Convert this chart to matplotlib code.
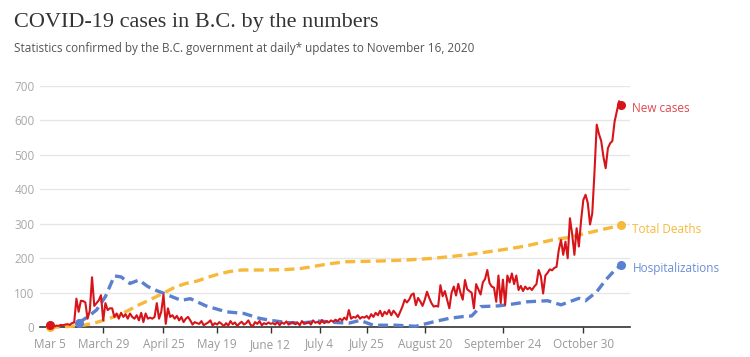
import numpy as np
import pandas as pd
import matplotlib
matplotlib.use("Agg")
import matplotlib.pyplot as plt
import matplotlib.dates as mdates

# daily new cases, March 5 to November 16, 2020
start = "2020-03-05"
end = "2020-11-16"
new_cases = [
    8, 3, 1, 5, 4, 7, 6, 8, 9, 7,
    12, 14, 83, 45, 77, 76, 72, 25, 48, 145,
    62, 70, 78, 93, 20, 70, 50, 55, 55, 30,
    40, 25, 42, 30, 38, 25, 40, 30, 25, 35,
    20, 42, 15, 40, 25, 28, 25, 30, 70, 25,
    45, 95, 10, 55, 30, 35, 25, 33, 20, 30,
    15, 25, 30, 20, 8, 15, 12, 10, 18, 6,
    10, 14, 20, 5, 12, 8, 15, 10, 3, 12,
    5, 18, 9, 14, 4, 11, 16, 8, 12, 20,
    7, 3, 15, 10, 18, 6, 12, 9, 14, 10,
    12, 8, 15, 6, 14, 10, 17, 8, 12, 15,
    9, 14, 6, 18, 10, 12, 15, 8, 20, 13,
    16, 10, 21, 12, 18, 14, 20, 16, 22, 18,
    25, 20, 28, 22, 50, 25, 30, 28, 35, 25,
    30, 28, 33, 25, 38, 30, 42, 35, 48, 32,
    45, 38, 50, 35, 48, 40, 30, 45, 60, 80,
    72, 80, 94, 98, 64, 85, 75, 62, 80, 103,
    85, 70, 60, 62, 60, 122, 90, 105, 80, 55,
    100, 118, 92, 126, 100, 80, 137, 110, 105, 100,
    55, 125, 110, 95, 130, 140, 166, 128, 118, 115,
    74, 150, 70, 138, 65, 150, 130, 156, 125, 150,
    108, 120, 105, 118, 110, 115, 108, 118, 125, 166,
    148, 98, 150, 158, 168, 165, 172, 175, 224, 253,
    210, 248, 200, 316, 270, 210, 287, 234, 310, 369,
    384, 360, 298, 330, 450, 587, 560, 540, 494, 461,
    519, 533, 540, 596, 626, 655, 645,
]

death_dates = [
    "2020-03-05", "2020-03-10", "2020-03-15", "2020-03-20", "2020-03-25",
    "2020-03-30", "2020-04-04", "2020-04-09", "2020-04-14", "2020-04-19",
    "2020-04-25", "2020-04-30", "2020-05-05", "2020-05-10", "2020-05-15",
    "2020-05-20", "2020-05-25", "2020-05-30", "2020-06-08", "2020-06-18",
    "2020-06-25", "2020-07-01", "2020-07-08", "2020-07-16", "2020-07-31",
    "2020-08-12", "2020-08-24", "2020-09-08", "2020-09-23", "2020-10-01",
    "2020-10-06", "2020-10-16", "2020-10-23", "2020-10-31", "2020-11-08",
    "2020-11-16",
]
deaths = [0, 1, 3, 6, 12, 22, 33, 48, 65, 80,
          99, 116, 127, 134, 145, 155, 162, 166, 166, 167,
          170, 176, 184, 190, 192, 195, 200, 210, 224, 232,
          238, 253, 260, 272, 284, 296]

hosp_dates = [
    "2020-03-18", "2020-03-22", "2020-03-26", "2020-03-30", "2020-04-03",
    "2020-04-06", "2020-04-10", "2020-04-14", "2020-04-18", "2020-04-22",
    "2020-04-25", "2020-04-29", "2020-05-03", "2020-05-07", "2020-05-14",
    "2020-05-23", "2020-05-31", "2020-06-07", "2020-06-12", "2020-06-19",
    "2020-06-25", "2020-07-04", "2020-07-11", "2020-07-17", "2020-07-22",
    "2020-07-28", "2020-08-07", "2020-08-16", "2020-08-24", "2020-08-31",
    "2020-09-06", "2020-09-10", "2020-09-14", "2020-09-22", "2020-09-29",
    "2020-10-05", "2020-10-14", "2020-10-20", "2020-10-28", "2020-10-31",
    "2020-11-05", "2020-11-09", "2020-11-13", "2020-11-16",
]
hospitalizations = [13, 30, 50, 89, 149, 146, 127, 137, 118, 106,
                    99, 88, 78, 83, 62, 45, 40, 26, 20, 14,
                    12, 18, 14, 12, 20, 6, 6, 3, 16, 26,
                    31, 33, 60, 62, 68, 74, 77, 65, 84, 77,
                    103, 137, 165, 181]

tick_dates = ["2020-03-05", "2020-03-29", "2020-04-25", "2020-05-19", "2020-06-12",
              "2020-07-04", "2020-07-25", "2020-08-20", "2020-09-24", "2020-10-30"]
tick_labels = ["Mar 5", "March 29", "April 25", "May 19", "June 12",
               "July 4", "July 25", "August 20", "September 24", "October 30"]

red = "#d7141a"
gold = "#f6b93b"
blue = "#5b80d0"
sans = ["Open Sans", "DejaVu Sans"]

case_dates = pd.date_range(start, end)
death_dates = pd.to_datetime(death_dates)
hosp_dates = pd.to_datetime(hosp_dates)

fig = plt.figure(figsize=(7.5, 3.57), dpi=100)
ax = fig.add_axes([40 / 750, 29.7 / 357, 590 / 750, 241.6 / 357])

ax.plot(death_dates, deaths, color=gold, lw=2.4, dashes=(3.0, 1.6), clip_on=False, zorder=3)
ax.plot(hosp_dates, hospitalizations, color=blue, lw=2.4, dashes=(3.0, 1.6), clip_on=False, zorder=3)
ax.plot(case_dates, new_cases, color=red, lw=1.5, clip_on=False, zorder=4)

# dots at the ends of each line
for x, y, c in [(death_dates, deaths, gold), (hosp_dates, hospitalizations, blue), (case_dates, new_cases, red)]:
    ax.plot([x[0], x[-1]], [y[0], y[-1]], "o", color=c, ms=5.5, clip_on=False, zorder=5)

labels = [("New cases", case_dates[-1], new_cases[-1], "#e0474c"),
          ("Total Deaths", death_dates[-1], deaths[-1], gold),
          ("Hospitalizations", hosp_dates[-1], hospitalizations[-1], "#6b8ed6")]
for txt, x, y, c in labels:
    ax.annotate(txt, (x, y), xytext=(8, -3), textcoords="offset points",
                va="center", ha="left", color=c, fontsize=8.5, family=sans,
                annotation_clip=False)

ax.set_ylim(0, 700)
ax.set_xlim(pd.Timestamp(start) - pd.Timedelta(days=4.3),
            pd.Timestamp(end) + pd.Timedelta(days=3.9))
ax.set_yticks(range(0, 701, 100))
ax.set_xticks(pd.to_datetime(tick_dates))
ax.set_xticklabels(tick_labels)
ax.xaxis.get_major_ticks()[0].tick1line.set_visible(False)

ax.grid(axis="y", color="#e6e6e6", lw=1)
ax.set_axisbelow(True)
for s in ["top", "right", "left"]:
    ax.spines[s].set_visible(False)
ax.spines["bottom"].set_color("#333333")
ax.spines["bottom"].set_linewidth(1.2)
ax.tick_params(axis="y", length=0, pad=4, labelsize=8.5, labelcolor="#a8a8a8")
ax.tick_params(axis="x", length=4, width=1, color="#333333", pad=4,
               labelsize=8.5, labelcolor="#999999")
for lab in ax.get_xticklabels() + ax.get_yticklabels():
    lab.set_family(sans)

fig.text(14 / 750, 1 - 27 / 357, "COVID-19 cases in B.C. by the numbers",
         family=["Liberation Serif", "DejaVu Serif"], fontsize=16, color="#333333", va="baseline")
fig.text(14 / 750, 1 - 52 / 357,
         "Statistics confirmed by the B.C. government at daily* updates to November 16, 2020",
         family=sans, fontsize=8.5, color="#555555", va="baseline")

fig.savefig("out.png", dpi=100)
